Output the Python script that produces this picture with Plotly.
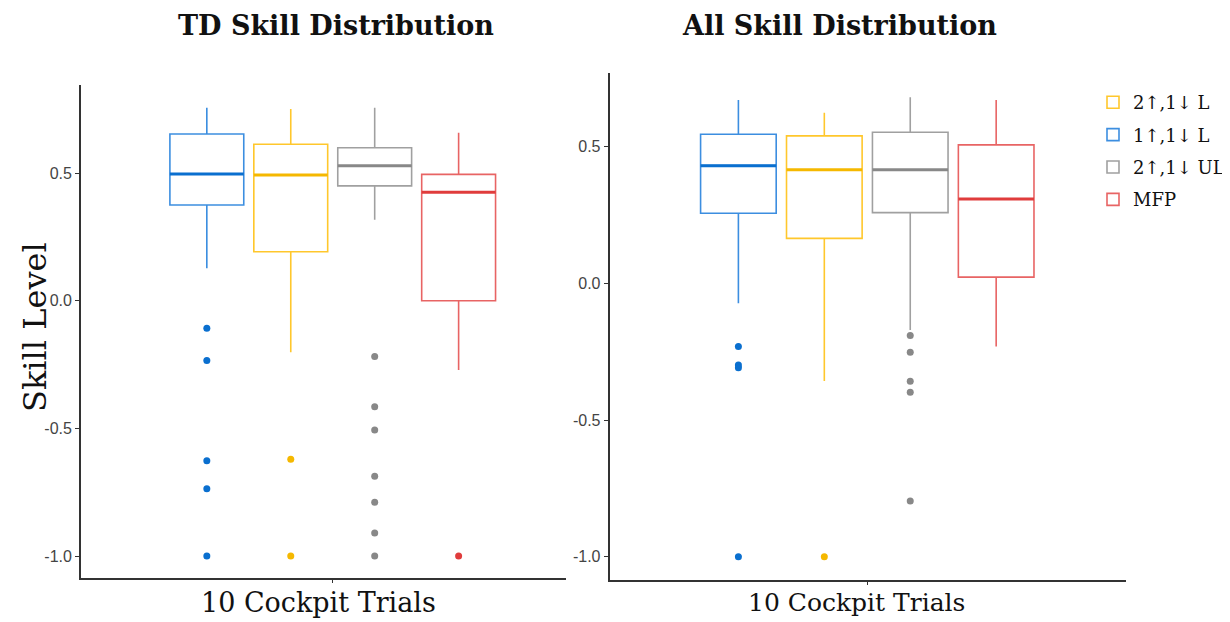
import plotly.graph_objects as go

# ---------------- data ----------------
groups = ["1↑,1↓ L", "2↑,1↓ L", "2↑,1↓ UL", "MFP"]          # order along x
legend_rank = [2, 1, 3, 4]                                    # legend order
box_colors = ["#3C8EE0", "#FFC72C", "#A0A0A0", "#E86464"]
median_colors = ["#0A6FCF", "#F5B800", "#888888", "#E03C3C"]
dot_colors = ["#0A6FCF", "#F5B800", "#888888", "#E03C3C"]
dodge = [-1.5, -0.5, 0.5, 1.5]

td_q1 = [0.375, 0.192, 0.450, 0.0]
td_median = [0.496, 0.492, 0.529, 0.425]
td_q3 = [0.653, 0.613, 0.599, 0.495]
td_lower = [0.127, -0.202, 0.317, -0.271]
td_upper = [0.756, 0.751, 0.756, 0.658]
td_outliers = [
    [-0.108, -0.234, -0.627, -0.736, -1.0],
    [-0.621, -1.0],
    [-0.218, -0.415, -0.506, -0.687, -0.789, -0.910, -1.0],
    [-1.0],
]

all_q1 = [0.257, 0.165, 0.259, 0.023]
all_median = [0.431, 0.416, 0.416, 0.309]
all_q3 = [0.546, 0.540, 0.553, 0.507]
all_lower = [-0.072, -0.357, -0.170, -0.231]
all_upper = [0.671, 0.625, 0.681, 0.671]
all_outliers = [
    [-0.231, -0.298, -0.308, -1.0],
    [-1.0],
    [-0.190, -0.252, -0.358, -0.398, -0.796],
    [],
]

y_tickvals = [-1.0, -0.5, 0.0, 0.5]
y_ticktext = ["-1.0", "-0.5", "0.0", "0.5"]

titles = ["TD Skill Distribution", "All Skill Distribution"]
x_title = "10 Cockpit Trials"
y_title = "Skill Level"

BOX_W = 0.88
OFF = 8                       # page body margin
W, H = 1230 - OFF, 622 - OFF

fig = go.Figure()


def add_panel(q1, med, q3, lo, up, outl, xa, ya, show_legend):
    for i, g in enumerate(groups):
        fig.add_trace(go.Box(
            x=[dodge[i]], q1=[q1[i]], median=[med[i]], q3=[q3[i]],
            lowerfence=[lo[i]], upperfence=[up[i]],
            width=BOX_W, whiskerwidth=0,
            line=dict(color=box_colors[i], width=1.6),
            fillcolor="rgba(255,255,255,0)",
            boxpoints=False, name=g, legendgroup=g,
            legendrank=legend_rank[i], showlegend=show_legend,
            xaxis=xa, yaxis=ya, hoverinfo="skip",
        ))
        fig.add_trace(go.Scatter(
            x=[dodge[i] - BOX_W / 2, dodge[i] + BOX_W / 2], y=[med[i], med[i]],
            mode="lines", line=dict(color=median_colors[i], width=3),
            showlegend=False, legendgroup=g, xaxis=xa, yaxis=ya, hoverinfo="skip",
        ))
        if outl[i]:
            fig.add_trace(go.Scatter(
                x=[dodge[i]] * len(outl[i]), y=outl[i], mode="markers",
                marker=dict(color=dot_colors[i], size=7),
                showlegend=False, legendgroup=g, xaxis=xa, yaxis=ya, hoverinfo="skip",
            ))


add_panel(td_q1, td_median, td_q3, td_lower, td_upper, td_outliers, "x", "y", True)
add_panel(all_q1, all_median, all_q3, all_lower, all_upper, all_outliers, "x2", "y2", False)


def px_x(p):
    return (p - OFF) / W


def px_y(p):
    return (H - (p - OFF)) / H


axis_common = dict(showline=True, linecolor="#333333", linewidth=1.6, showgrid=False,
                   zeroline=False, ticks="outside", tickcolor="#333333", mirror=False)
tickfont = dict(family="Liberation Sans, Arial", size=16, color="#444444")

fig.update_layout(
    width=W, height=H, margin=dict(l=0, r=0, t=0, b=0),
    plot_bgcolor="white", paper_bgcolor="white",
    xaxis=dict(domain=[px_x(81), px_x(566)], range=[-3.0, 2.774], anchor="y",
               tickvals=[0], ticktext=[""], ticklen=3, **axis_common),
    yaxis=dict(domain=[px_y(578), px_y(85)], range=[-1.086, 0.845], anchor="x",
               tickvals=y_tickvals, ticktext=y_ticktext, ticklen=4,
               tickfont=tickfont, **axis_common),
    xaxis2=dict(domain=[px_x(610), px_x(1127)], range=[-3.0, 3.012], anchor="y2",
                tickvals=[0], ticktext=[""], ticklen=3, **axis_common),
    yaxis2=dict(domain=[px_y(580), px_y(73)], range=[-1.085, 0.770], anchor="x2",
                tickvals=y_tickvals, ticktext=y_ticktext, ticklen=4,
                tickfont=tickfont, **axis_common),
    legend=dict(x=px_x(1094), y=px_y(84), xanchor="left", yanchor="top",
                font=dict(family="DejaVu Serif", size=18, color="#111111"),
                tracegroupgap=6, itemwidth=30, bgcolor="rgba(0,0,0,0)"),
    showlegend=True,
)

serif = "DejaVu Serif"


def ann(text, x, y, size, angle=0):
    fig.add_annotation(text=text, x=px_x(x), y=px_y(y), xref="paper", yref="paper",
                       xanchor="center", yanchor="middle", textangle=angle,
                       showarrow=False, font=dict(family=serif, size=size, color="#111111"))


ann("<b>%s</b>" % titles[0], 336, 25, 27)
ann("<b>%s</b>" % titles[1], 840, 25, 27)
ann(x_title, 319, 602, 27)
ann(x_title, 857, 602, 25)
ann(y_title, 35, 327, 32, -90)

fig.write_html("out.html")
